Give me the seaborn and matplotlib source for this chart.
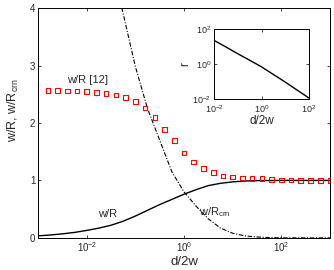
import numpy as np
import pandas as pd
import matplotlib
matplotlib.use("Agg")
import matplotlib.pyplot as plt
import seaborn as sns

# red squares: w/R from ref [12]
ref_x = [10 ** (-2.8 + 0.2 * k) for k in range(30)]
ref_y = [2.57, 2.57, 2.56, 2.555, 2.55, 2.53, 2.51, 2.49, 2.44, 2.37, 2.26, 2.10, 1.89,
         1.69, 1.48, 1.32, 1.21, 1.14, 1.08, 1.06, 1.045, 1.035, 1.03, 1.02, 1.01, 1.01,
         1.0, 1.0, 1.0, 1.0]

# solid line: w/R (read every quarter decade)
wr_logx = [-3, -2.75, -2.5, -2.25, -2, -1.75, -1.5, -1.25, -1, -0.75, -0.5, -0.25,
           0, 0.25, 0.5, 0.75, 1, 1.25, 1.5, 2, 3]
wr_y = [0.035, 0.05, 0.07, 0.095, 0.13, 0.17, 0.22, 0.29, 0.38, 0.48, 0.58, 0.67,
        0.76, 0.84, 0.91, 0.95, 0.975, 0.99, 0.997, 1.0, 1.0]

# dash-dot line: w/R_crn
crn_logx = [-1.5, -1.25, -1, -0.75, -0.5, -0.25, 0, 0.25, 0.5, 0.75, 1, 1.25, 1.5,
            1.75, 2, 3]
crn_y = [4.75, 3.9, 2.98, 2.25, 1.70, 1.15, 0.80, 0.55, 0.33, 0.17, 0.08, 0.035,
         0.015, 0.005, 0.0, 0.0]

# inset: r vs d/2w
r_logx = [-2, -1.5, -1, -0.5, 0, 0.5, 1, 1.5, 2]
r_y = [23.4, 9.8, 4.0, 1.7, 0.71, 0.26, 0.095, 0.033, 0.0115]

wr_x = [10 ** v for v in wr_logx]
crn_x = [10 ** v for v in crn_logx]
r_x = [10 ** v for v in r_logx]

sns.set_style("ticks")
plt.rcParams['font.family'] = ['Liberation Sans', 'DejaVu Sans']
plt.rcParams['mathtext.fontset'] = 'custom'
plt.rcParams['mathtext.rm'] = 'Liberation Sans'
plt.rcParams['mathtext.it'] = 'Liberation Sans:italic'

fig = plt.figure(figsize=(3.34, 2.7), dpi=100)
ax = fig.add_axes([0.114, 0.119, 0.874, 0.851])

sns.lineplot(x=wr_x, y=wr_y, ax=ax, color='black', lw=1.0)
sns.lineplot(x=crn_x, y=crn_y, ax=ax, color='black', lw=0.8, linestyle=(0, (4, 1.5, 1, 1.5)))
sns.scatterplot(x=ref_x, y=ref_y, ax=ax, marker='s', s=11, facecolor='none',
                edgecolor='red', linewidth=0.8, zorder=5)

ax.set_xscale('log')
ax.set_xlim(1e-3, 1e3)
ax.set_ylim(0, 4)
ax.set_xticks([1e-2, 1e0, 1e2])
ax.set_yticks([0, 1, 2, 3, 4])
ax.minorticks_off()
ax.tick_params(direction='in', top=True, right=True, length=2.5, width=0.6,
               labelsize=7, pad=2)
for s in ax.spines.values():
    s.set_linewidth(0.7)
    s.set_color('black')
ax.set_xlabel('d/2w', fontsize=9.5, labelpad=1)
ax.set_ylabel(r'w/R, w/R$_{\rm crn}$', fontsize=9)
ax.yaxis.set_label_coords(-0.058, 0.556)

ax.text(10**-2.4, 2.75, 'w/R [12]', fontsize=8, va='center')
ax.text(10**-1.77, 0.42, 'w/R', fontsize=8, va='center')
ax.text(10**0.3, 0.44, r'w/R$_{\rm crn}$', fontsize=8, va='center')

# inset
ins = fig.add_axes([0.641, 0.633, 0.284, 0.258])
sns.lineplot(x=r_x, y=r_y, ax=ins, color='black', lw=1.0)
ins.set_xscale('log')
ins.set_yscale('log')
ins.set_xlim(1e-2, 1e2)
ins.set_ylim(1e-2, 1e2)
ins.set_xticks([1e-2, 1e0, 1e2])
ins.set_yticks([1e-2, 1e0, 1e2])
ins.minorticks_off()
ins.tick_params(direction='in', top=True, right=True, length=2, width=0.6,
                labelsize=6.5, pad=2)
ins.tick_params(axis='x', pad=3)
for s in ins.spines.values():
    s.set_linewidth(0.7)
    s.set_color('black')
ins.set_xlabel('d/2w', fontsize=8.5, labelpad=0)
ins.set_ylabel('r', fontsize=8.5, labelpad=1)

fig.savefig('out.png', dpi=100)
